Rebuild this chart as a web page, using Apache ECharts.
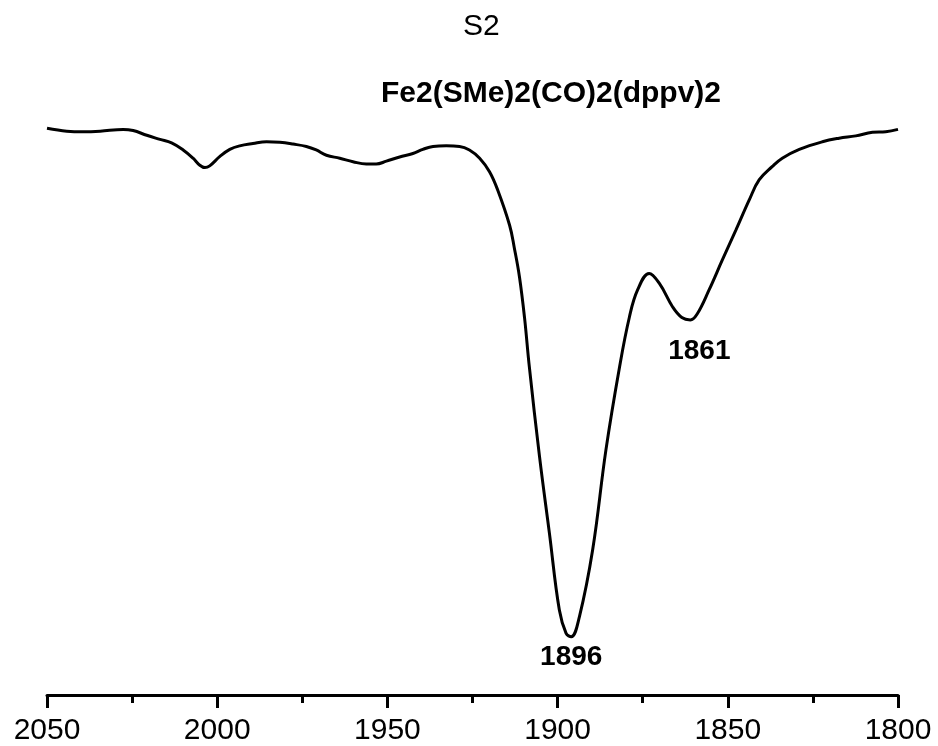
<!DOCTYPE html>
<html>
<head>
<meta charset="utf-8">
<title>S2 IR spectrum</title>
<script src="https://cdn.jsdelivr.net/npm/echarts@6/dist/echarts.min.js"></script>
<style>
  html, body { margin: 0; padding: 0; background: #ffffff; }
  #chart { width: 938px; height: 746px; }
</style>
</head>
<body>
<div id="chart"></div>
<script>
// IR spectrum of Fe2(SMe)2(CO)2(dppv)2, carbonyl region
const wavenumbers = [
  2050, 2044.2, 2039.3, 2034.4, 2027.6, 2024.7, 2020.7, 2016.8, 2013.4, 2010.0,
  2007.1, 2005.1, 2003.6, 2002.2, 1999.2, 1996.3, 1993.4, 1989.5, 1985.5, 1981.6,
  1977.7, 1973.8, 1970.9, 1967.9, 1964.0, 1960.1, 1956.2, 1953.3, 1950.3, 1946.4,
  1942.5, 1939.6, 1936.6, 1932.7, 1928.8, 1925.9, 1922.9, 1920.0, 1917.6,
  1914.1, 1912.7, 1911.2, 1909.7, 1908.3, 1905.3, 1902.4, 1899.5, 1897.5, 1896.0,
  1893.6, 1889.7, 1885.8, 1881.8, 1878.9, 1876.5, 1873.1, 1870.1, 1866.2, 1863.5,
  1861.0, 1859.0, 1855.5, 1851.6, 1847.6, 1843.7, 1840.8, 1836.9, 1834.0, 1829.0,
  1822.2, 1817.3, 1812.4, 1807.5, 1803.6, 1800
];
const transmittance = [
  95.2, 94.7, 94.6, 94.7, 95.0, 94.8, 94.0, 93.3, 92.7, 91.5,
  90.1, 88.9, 88.5, 88.8, 90.4, 91.6, 92.2, 92.6, 92.9, 92.8,
  92.5, 92.1, 91.5, 90.6, 90.1, 89.5, 89.1, 89.1, 89.6, 90.3,
  90.9, 91.6, 92.1, 92.2, 92.1, 91.5, 90.1, 87.8, 84.7,
  78.7, 74.8, 69.9, 62.9, 54.6, 39.3, 26.3, 13.3, 9.3, 8.7,
  12.1, 23.5, 40.5, 54.6, 63.1, 67.7, 70.5, 68.8, 64.8, 63.0,
  62.6, 63.6, 67.7, 72.8, 77.9, 83.0, 86.4, 88.7, 90.1, 91.6,
  92.9, 93.5, 93.9, 94.5, 94.6, 95.0
];

// Labelled band positions
const peakWavenumbers = [1896, 1861];
const peakTransmittance = [8.7, 62.6];
const peakLabelOffsets = [[0, 0], [9, 0]];
const peakLabelDistances = [6, 17];

const xTickInterval = 50;
const xMin = 1800;
const xMax = 2050;

const mainTitle = 'S2';
const compoundName = 'Fe2(SMe)2(CO)2(dppv)2';

const spectrum = wavenumbers.map((w, i) => [w, transmittance[i]]);
const peaks = peakWavenumbers.map((w, i) => ({
  value: [w, peakTransmittance[i]],
  label: { offset: peakLabelOffsets[i], distance: peakLabelDistances[i] }
}));

const FONT = '"Liberation Sans", Arial, Helvetica, sans-serif';

const chart = echarts.init(document.getElementById('chart'), null, { renderer: 'canvas' });
chart.setOption({
  backgroundColor: '#ffffff',
  animation: false,
  title: [
    {
      text: mainTitle,
      left: 458,
      top: 7,
      textStyle: { fontFamily: FONT, fontSize: 30, fontWeight: 'normal', color: '#000' }
    },
    {
      text: compoundName,
      left: 376,
      top: 74,
      textStyle: { fontFamily: FONT, fontSize: 30, fontWeight: 'bold', color: '#000' }
    }
  ],
  grid: { left: 47, right: 40, top: 100, bottom: 51, containLabel: false },
  xAxis: {
    type: 'value',
    inverse: true,
    min: xMin,
    max: xMax,
    interval: xTickInterval,
    position: 'bottom',
    splitLine: { show: false },
    axisLine: { show: true, onZero: false, lineStyle: { color: '#000', width: 3 } },
    axisTick: { show: true, inside: false, length: 13, lineStyle: { color: '#000', width: 3 } },
    minorTick: { show: true, splitNumber: 2, length: 8, lineStyle: { color: '#000', width: 3 } },
    axisLabel: {
      show: true,
      margin: 21,
      fontFamily: FONT,
      fontSize: 30,
      color: '#000',
      formatter: v => String(v)
    }
  },
  yAxis: {
    type: 'value',
    min: -1.19,
    max: 100,
    show: false,
    splitLine: { show: false }
  },
  series: [
    {
      type: 'line',
      data: spectrum,
      smooth: 0.4,
      showSymbol: false,
      symbol: 'none',
      lineStyle: { color: '#000', width: 3 }
    },
    {
      type: 'scatter',
      data: peaks,
      symbolSize: 0,
      itemStyle: { opacity: 1 },
      label: {
        show: true,
        position: 'bottom',
        formatter: p => String(p.value[0]),
        fontFamily: FONT,
        fontSize: 28,
        fontWeight: 'bold',
        color: '#000',
        opacity: 1
      }
    }
  ]
});
</script>
</body>
</html>
